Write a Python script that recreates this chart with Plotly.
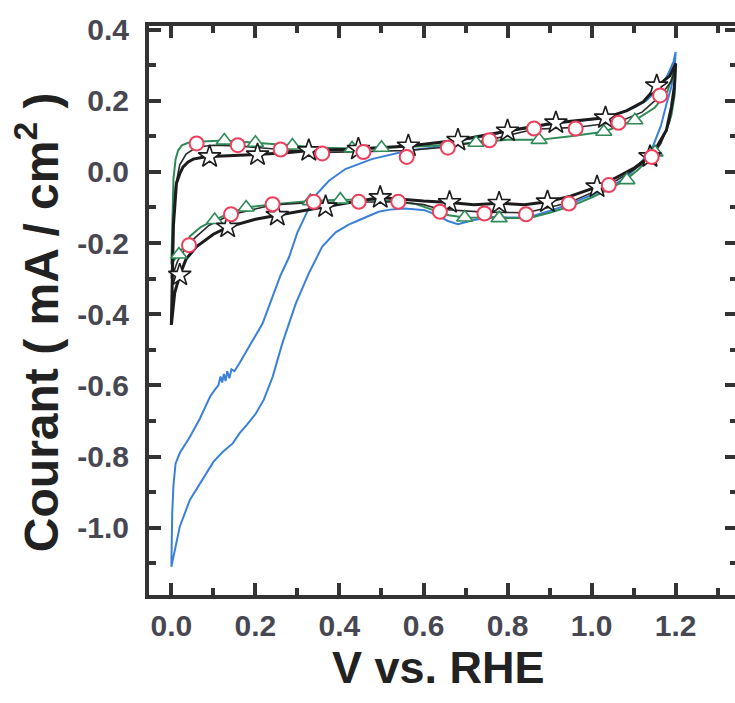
import plotly.graph_objects as go

# ---------------- data (V vs RHE, mA/cm2) ----------------
# blue curve (forward scan then reverse scan)
blue_v = [0.0, 0.002, 0.005, 0.01, 0.02, 0.044, 0.068, 0.092, 0.105, 0.112, 0.117, 0.121, 0.125,
          0.129, 0.133, 0.138, 0.143, 0.15, 0.162, 0.18, 0.193, 0.217, 0.241, 0.26, 0.28, 0.30,
          0.32, 0.34, 0.375, 0.414, 0.477, 0.53, 0.564, 0.62, 0.682, 0.75, 0.8, 0.87, 0.93, 1.0,
          1.05, 1.1, 1.13, 1.16, 1.18, 1.195, 1.2,
          1.198, 1.19, 1.178, 1.165, 1.147, 1.12, 1.084, 1.04, 1.0, 0.95, 0.9, 0.848, 0.8, 0.769,
          0.72, 0.682, 0.658, 0.63, 0.603, 0.556, 0.52, 0.493, 0.446, 0.422, 0.391, 0.359, 0.327,
          0.296, 0.264, 0.241, 0.22, 0.201, 0.18, 0.162, 0.146, 0.122, 0.1, 0.083, 0.06, 0.044,
          0.02, 0.004, 0.0]
blue_i = [-1.11, -0.96, -0.88, -0.82, -0.79, -0.745, -0.693, -0.632, -0.61, -0.60, -0.575, -0.592,
          -0.568, -0.588, -0.56, -0.58, -0.555, -0.56, -0.538, -0.5, -0.473, -0.426, -0.35, -0.29,
          -0.24, -0.17, -0.12, -0.07, -0.025, 0.008, 0.036, 0.05, 0.06, 0.068, 0.088, 0.1, 0.115,
          0.128, 0.138, 0.147, 0.158, 0.18, 0.2, 0.235, 0.27, 0.31, 0.337,
          0.30, 0.24, 0.19, 0.13, 0.075, 0.03, -0.015, -0.045, -0.065, -0.09, -0.11, -0.128,
          -0.128, -0.126, -0.135, -0.147, -0.138, -0.12, -0.108, -0.103, -0.106, -0.112, -0.136,
          -0.148, -0.17, -0.21, -0.285, -0.37, -0.482, -0.576, -0.64, -0.679, -0.71, -0.735,
          -0.763, -0.787, -0.815, -0.847, -0.89, -0.922, -0.997, -1.09, -1.11]

# green curve (triangles)
green_v = [0.0, 0.002, 0.005, 0.01, 0.016, 0.025, 0.04, 0.06, 0.09, 0.126, 0.2, 0.288, 0.36, 0.43,
           0.5, 0.6, 0.66, 0.725, 0.8, 0.875, 0.95, 1.029, 1.103, 1.15, 1.18, 1.2,
           1.198, 1.19, 1.178, 1.16, 1.14, 1.11, 1.08, 1.04, 1.0, 0.95, 0.9, 0.85, 0.8, 0.75, 0.698,
           0.66, 0.62, 0.58, 0.54, 0.5, 0.45, 0.402, 0.331, 0.25, 0.178, 0.14, 0.103, 0.07, 0.045,
           0.018, 0.005, 0.0]
green_i = [-0.26, -0.12, -0.02, 0.035, 0.06, 0.075, 0.082, 0.085, 0.087, 0.088, 0.082, 0.074, 0.068,
           0.066, 0.068, 0.072, 0.076, 0.082, 0.09, 0.09, 0.1, 0.113, 0.145, 0.18, 0.225, 0.295,
           0.22, 0.16, 0.115, 0.075, 0.04, 0.005, -0.023, -0.05, -0.072, -0.097, -0.115, -0.13,
           -0.13, -0.128, -0.128, -0.122, -0.105, -0.09, -0.084, -0.08, -0.078, -0.078, -0.082,
           -0.09, -0.1, -0.115, -0.135, -0.155, -0.18, -0.232, -0.25, -0.26]
tri_v = [0.126, 0.2, 0.288, 0.43, 0.5, 0.725, 0.875, 1.029, 1.103,
         0.018, 0.103, 0.178, 0.331, 0.402, 0.698, 0.78, 1.084, 1.151]
tri_i = [0.088, 0.082, 0.074, 0.066, 0.068, 0.082, 0.09, 0.113, 0.145,
         -0.232, -0.135, -0.1, -0.082, -0.078, -0.128, -0.13, -0.023, 0.055]

# dark curve carrying the red circles
circ_line_v = [0.0, 0.004, 0.01, 0.02, 0.035, 0.06, 0.1, 0.158, 0.26, 0.359, 0.457, 0.56, 0.658,
               0.757, 0.863, 0.962, 1.064, 1.12, 1.163, 1.19, 1.2,
               1.196, 1.185, 1.165, 1.143, 1.1, 1.041, 0.946, 0.844, 0.745, 0.639, 0.6, 0.54, 0.446,
               0.339, 0.241, 0.142, 0.09, 0.042, 0.015, 0.0]
circ_line_i = [-0.3, -0.15, -0.04, 0.02, 0.05, 0.07, 0.075, 0.073, 0.063, 0.055, 0.057, 0.06, 0.07,
               0.09, 0.12, 0.125, 0.14, 0.168, 0.213, 0.255, 0.3,
               0.21, 0.14, 0.08, 0.042, 0.005, -0.037, -0.087, -0.115, -0.113, -0.105, -0.092,
               -0.084, -0.084, -0.086, -0.093, -0.12, -0.15, -0.2, -0.25, -0.3]
circ_v = [0.06, 0.158, 0.26, 0.359, 0.457, 0.56, 0.658, 0.757, 0.863, 0.962, 1.064, 1.163,
          0.042, 0.142, 0.241, 0.339, 0.446, 0.54, 0.639, 0.745, 0.844, 0.946, 1.041, 1.143]
circ_i = [0.08, 0.075, 0.063, 0.052, 0.056, 0.042, 0.068, 0.089, 0.122, 0.122, 0.138, 0.215,
          -0.206, -0.119, -0.091, -0.084, -0.084, -0.084, -0.112, -0.117, -0.119, -0.089, -0.037, 0.042]

# black curve (stars)
blk_v = [0.0, 0.002, 0.005, 0.012, 0.02, 0.028, 0.04, 0.052, 0.075, 0.095, 0.15, 0.209, 0.27, 0.327,
         0.445, 0.564, 0.682, 0.8, 0.915, 1.033, 1.084, 1.123, 1.155, 1.186, 1.2,
         1.197, 1.19, 1.178, 1.155, 1.139, 1.1, 1.06, 1.013, 0.95, 0.895, 0.84, 0.78, 0.72, 0.662,
         0.6, 0.55, 0.497, 0.43, 0.367, 0.3, 0.252, 0.2, 0.134, 0.1, 0.06, 0.035, 0.02, 0.008, 0.0]
blk_i = [-0.43, -0.3, -0.15, -0.033, -0.005, 0.014, 0.028, 0.036, 0.041, 0.043, 0.046, 0.048, 0.053,
         0.06, 0.064, 0.073, 0.089, 0.115, 0.138, 0.152, 0.172, 0.197, 0.24, 0.27, 0.305,
         0.24, 0.183, 0.117, 0.07, 0.044, 0.01, -0.015, -0.042, -0.068, -0.084, -0.092, -0.088,
         -0.092, -0.086, -0.082, -0.077, -0.072, -0.085, -0.098, -0.11, -0.122, -0.133, -0.155,
         -0.175, -0.21, -0.245, -0.29, -0.34, -0.43]
star_v = [0.091, 0.205, 0.327, 0.445, 0.564, 0.682, 0.8, 0.915, 1.033, 1.155,
          0.02, 0.134, 0.252, 0.367, 0.497, 0.662, 0.78, 0.895, 1.013, 1.139]
star_i = [0.043, 0.048, 0.06, 0.064, 0.073, 0.089, 0.115, 0.138, 0.152, 0.242,
          -0.29, -0.155, -0.122, -0.098, -0.072, -0.086, -0.088, -0.084, -0.042, 0.043]

x_ticks = [0.0, 0.2, 0.4, 0.6, 0.8, 1.0, 1.2]
x_labels = ["0.0", "0.2", "0.4", "0.6", "0.8", "1.0", "1.2"]
y_ticks = [-1.0, -0.8, -0.6, -0.4, -0.2, 0.0, 0.2, 0.4]
y_labels = ["-1.0", "-0.8", "-0.6", "-0.4", "-0.2", "0.0", "0.2", "0.4"]

# ---------------- figure ----------------
BLUE = "#3b80d8"
GREEN = "#2e8b57"
RED = "#ee3f5c"
DARK = "#1c1c1c"
AX = "#333333"
FONT = "Liberation Sans, Arial, sans-serif"

fig = go.Figure()
fig.add_trace(go.Scatter(x=blue_v, y=blue_i, mode="lines", line=dict(color=BLUE, width=2)))
fig.add_trace(go.Scatter(x=green_v, y=green_i, mode="lines", line=dict(color=GREEN, width=2)))
fig.add_trace(go.Scatter(x=circ_line_v, y=circ_line_i, mode="lines", line=dict(color="#2a2a2a", width=1.6)))
fig.add_trace(go.Scatter(x=blk_v, y=blk_i, mode="lines", line=dict(color=DARK, width=3)))
fig.add_trace(go.Scatter(x=tri_v, y=tri_i, mode="markers",
                         marker=dict(symbol="triangle-up", size=14, color="white",
                                     line=dict(color=GREEN, width=1.6))))
fig.add_trace(go.Scatter(x=star_v, y=star_i, mode="markers",
                         marker=dict(symbol="star", size=17, color="white",
                                     line=dict(color=DARK, width=1.6))))
fig.add_trace(go.Scatter(x=circ_v, y=circ_i, mode="markers",
                         marker=dict(symbol="circle", size=14, color="white",
                                     line=dict(color=RED, width=2))))

axis_common = dict(
    showline=True, linewidth=4, linecolor=AX, mirror="ticks",
    ticks="inside", ticklen=12, tickwidth=3.5, tickcolor=AX,
    showgrid=False, zeroline=False,
    tickfont=dict(family=FONT, size=30, color="#474752", weight="bold"),
)

fig.update_xaxes(range=[-0.0532, 1.346], tickvals=x_ticks, ticktext=x_labels,
                 ticklabelstandoff=1,
                 minor=dict(ticks="inside", ticklen=7, tickwidth=3.5, tickcolor=AX,
                            dtick=0.1, tick0=0, showgrid=False),
                 **axis_common)
fig.update_yaxes(range=[-1.189, 0.41], tickvals=y_ticks, ticktext=y_labels,
                 ticklabelstandoff=10,
                 minor=dict(ticks="inside", ticklen=7, tickwidth=3.5, tickcolor=AX,
                            dtick=0.1, tick0=0, showgrid=False),
                 **axis_common)

fig.add_annotation(text="V vs. RHE", xref="paper", yref="paper", x=0.492, y=-0.127,
                   xanchor="center", yanchor="middle", showarrow=False,
                   font=dict(family=FONT, size=45, color="#222222", weight="bold"))
fig.add_annotation(text="Courant ( mA / cm<sup>2</sup> )", xref="paper", yref="paper",
                   x=-0.19, y=0.48, xanchor="center", yanchor="middle", textangle=-90,
                   showarrow=False,
                   font=dict(family=FONT, size=48, color="#222222", weight="bold"))

fig.update_layout(
    width=741, height=703,
    margin=dict(l=149, r=0, t=26, b=108),
    paper_bgcolor="white", plot_bgcolor="white",
    showlegend=False,
)

fig.write_html("out.html", config={"displayModeBar": False},
               post_script="document.body.style.margin='0';")
